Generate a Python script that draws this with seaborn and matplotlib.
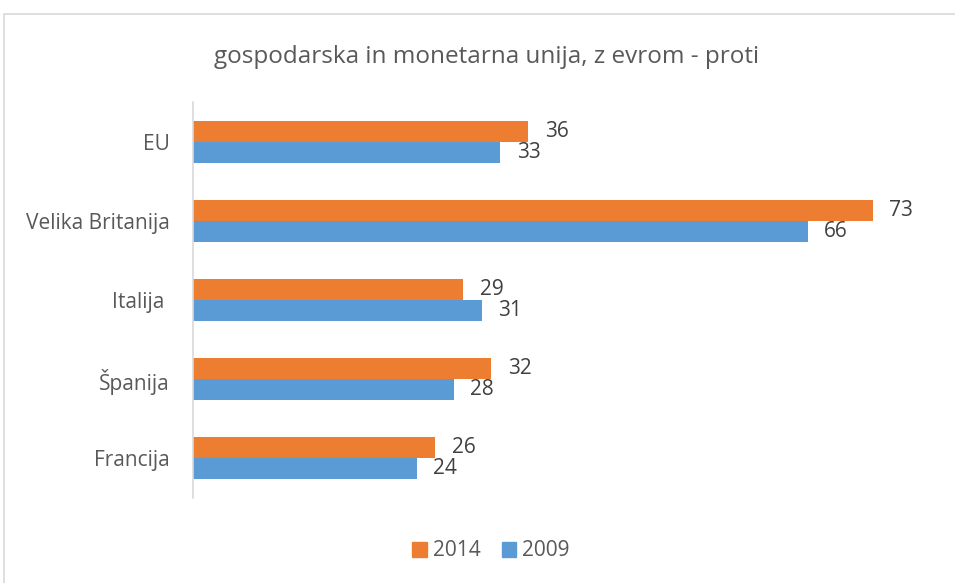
import matplotlib
matplotlib.use("Agg")
import matplotlib.pyplot as plt
from matplotlib.patches import Rectangle
import seaborn as sns
import pandas as pd

countries = ["EU", "Velika Britanija", "Italija ", "Španija", "Francija"]
years = ["2014", "2009"]
values_2014 = [36, 73, 29, 32, 26]
values_2009 = [33, 66, 31, 28, 24]
colors = ["#ED7D31", "#5B9BD5"]

df = pd.DataFrame({
    "country": countries * 2,
    "year": [years[0]] * len(countries) + [years[1]] * len(countries),
    "value": values_2014 + values_2009,
})

sns.set_theme(style="white")
plt.rcParams["font.family"] = ["Open Sans", "DejaVu Sans"]
text_color = "#595959"

fig = plt.figure(figsize=(9.55, 5.83), dpi=100)
# chart frame
fig.patches.append(Rectangle((4 / 955, -0.1), 1.2, 1 - 14 / 583 + 0.1, transform=fig.transFigure,
                             fill=False, edgecolor="#D9D9D9", linewidth=1.2))
ax = fig.add_axes([193 / 955, 1 - 498 / 583, 745 / 955, 396 / 583])

sns.barplot(data=df, x="value", y="country", hue="year", hue_order=years,
            palette=colors, orient="h", width=0.53, saturation=1, ax=ax,
            edgecolor="none", linewidth=0)

for cont in ax.containers:
    ax.bar_label(cont, padding=12, fontsize=15, color="#404040")

ax.set_xlim(0, 80)
ax.set_xlabel("")
ax.set_ylabel("")
ax.set_xticks([])
ax.tick_params(axis="y", length=0, pad=16.5, labelsize=15, labelcolor=text_color)
for s in ["top", "right", "bottom"]:
    ax.spines[s].set_visible(False)
ax.spines["left"].set_color("#D9D9D9")
ax.spines["left"].set_linewidth(1.2)

ax.legend_.remove()
handles = [Rectangle((0, 0), 1, 1, color=c) for c in colors]
fig.legend(handles, years, loc="center", bbox_to_anchor=(491 / 955, 1 - 551 / 583),
           ncol=2, frameon=False, fontsize=15, handlelength=0.7, handleheight=0.7,
           handletextpad=0.3, columnspacing=1.0, labelcolor=text_color)

fig.text(487 / 955, 1 - 57 / 583, "gospodarska in monetarna unija, z evrom - proti",
         ha="center", va="center", fontsize=17.5, color=text_color)

fig.savefig("out.png", dpi=100)
